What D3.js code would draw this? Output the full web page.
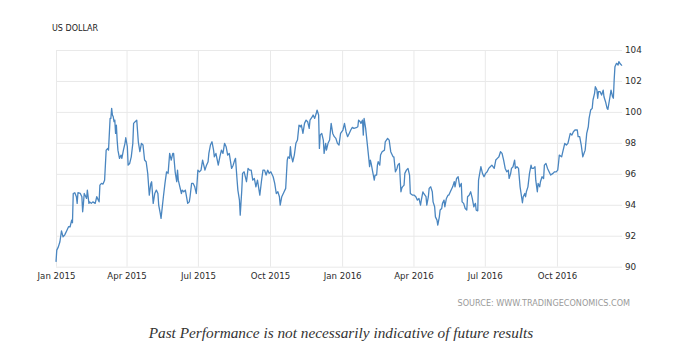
<!DOCTYPE html>
<html>
<head>
<meta charset="utf-8">
<script src="https://cdn.jsdelivr.net/npm/d3@7"></script>
<style>
  html, body { margin: 0; padding: 0; background: #fff; }
  svg { display: block; }
</style>
</head>
<body>
<div id="chart"></div>
<script>
// ---- Data ----
const chartTitle = "US DOLLAR";
const sourceText = "SOURCE: WWW.TRADINGECONOMICS.COM";
const captionText = "Past Performance is not necessarily indicative of future results";

const dates = [
"2015-01-01","2015-01-02","2015-01-04","2015-01-06","2015-01-08","2015-01-10","2015-01-12","2015-01-15","2015-01-17","2015-01-19",
"2015-01-21","2015-01-22","2015-01-23","2015-01-25","2015-01-27","2015-01-28","2015-01-29","2015-02-01","2015-02-03","2015-02-04",
"2015-02-05","2015-02-06","2015-02-08","2015-02-09","2015-02-10","2015-02-12","2015-02-13","2015-02-15","2015-02-17","2015-02-20",
"2015-02-22","2015-02-24","2015-02-25","2015-02-26","2015-02-28","2015-03-02","2015-03-04","2015-03-06","2015-03-08","2015-03-09",
"2015-03-11","2015-03-12","2015-03-13","2015-03-14","2015-03-15","2015-03-16","2015-03-17","2015-03-18","2015-03-19","2015-03-20",
"2015-03-21","2015-03-23","2015-03-25","2015-03-26","2015-03-28","2015-03-30","2015-03-31","2015-04-02","2015-04-03","2015-04-05",
"2015-04-07","2015-04-09","2015-04-10","2015-04-12","2015-04-14","2015-04-16","2015-04-18","2015-04-20","2015-04-22","2015-04-24",
"2015-04-26","2015-04-28","2015-04-30","2015-05-02","2015-05-03","2015-05-05","2015-05-07","2015-05-09","2015-05-11","2015-05-12",
"2015-05-14","2015-05-15","2015-05-18","2015-05-20","2015-05-22","2015-05-24","2015-05-26","2015-05-28","2015-05-30","2015-05-31",
"2015-06-02","2015-06-04","2015-06-05","2015-06-06","2015-06-08","2015-06-10","2015-06-11","2015-06-13","2015-06-15","2015-06-18",
"2015-06-20","2015-06-21","2015-06-23","2015-06-25","2015-06-27","2015-06-29","2015-07-01","2015-07-03","2015-07-05","2015-07-07",
"2015-07-10","2015-07-12","2015-07-14","2015-07-15","2015-07-17","2015-07-19","2015-07-21","2015-07-22","2015-07-24","2015-07-27",
"2015-07-29","2015-07-31","2015-08-02","2015-08-04","2015-08-06","2015-08-08","2015-08-10","2015-08-13","2015-08-15","2015-08-17",
"2015-08-18","2015-08-20","2015-08-21","2015-08-23","2015-08-24","2015-08-26","2015-08-27","2015-08-29","2015-09-01","2015-09-03",
"2015-09-05","2015-09-07","2015-09-09","2015-09-11","2015-09-13","2015-09-15","2015-09-18","2015-09-20","2015-09-22","2015-09-24",
"2015-09-26","2015-09-28","2015-09-30","2015-10-02","2015-10-05","2015-10-07","2015-10-09","2015-10-11","2015-10-13","2015-10-14",
"2015-10-16","2015-10-19","2015-10-21","2015-10-23","2015-10-24","2015-10-26","2015-10-27","2015-10-28","2015-10-30","2015-11-01",
"2015-11-03","2015-11-05","2015-11-07","2015-11-09","2015-11-10","2015-11-12","2015-11-14","2015-11-16","2015-11-18","2015-11-20",
"2015-11-21","2015-11-24","2015-11-25","2015-11-27","2015-11-29","2015-11-30","2015-12-02","2015-12-03","2015-12-04","2015-12-06",
"2015-12-08","2015-12-09","2015-12-11","2015-12-12","2015-12-14","2015-12-16","2015-12-18","2015-12-20","2015-12-22","2015-12-24",
"2015-12-26","2015-12-28","2015-12-30","2016-01-02","2016-01-04","2016-01-06","2016-01-08","2016-01-10","2016-01-12","2016-01-14",
"2016-01-16","2016-01-19","2016-01-21","2016-01-22","2016-01-24","2016-01-25","2016-01-27","2016-01-28","2016-01-29","2016-01-30",
"2016-01-31","2016-02-02","2016-02-04","2016-02-05","2016-02-06","2016-02-07","2016-02-09","2016-02-11","2016-02-12","2016-02-14",
"2016-02-15","2016-02-16","2016-02-18","2016-02-19","2016-02-21","2016-02-24","2016-02-25","2016-02-28","2016-03-01","2016-03-03",
"2016-03-04","2016-03-06","2016-03-07","2016-03-09","2016-03-11","2016-03-12","2016-03-14","2016-03-16","2016-03-17","2016-03-18",
"2016-03-20","2016-03-21","2016-03-23","2016-03-25","2016-03-27","2016-03-28","2016-03-31","2016-04-02","2016-04-04","2016-04-06",
"2016-04-08","2016-04-10","2016-04-11","2016-04-13","2016-04-14","2016-04-17","2016-04-18","2016-04-20","2016-04-21","2016-04-23",
"2016-04-25","2016-04-26","2016-04-28","2016-04-29","2016-05-01","2016-05-02","2016-05-04","2016-05-05","2016-05-07","2016-05-08",
"2016-05-10","2016-05-11","2016-05-13","2016-05-15","2016-05-16","2016-05-18","2016-05-21","2016-05-23","2016-05-24","2016-05-26",
"2016-05-28","2016-05-30","2016-06-01","2016-06-02","2016-06-04","2016-06-06","2016-06-08","2016-06-09","2016-06-11","2016-06-13",
"2016-06-15","2016-06-17","2016-06-19","2016-06-20","2016-06-22","2016-06-23","2016-06-26","2016-06-28","2016-06-30","2016-07-02",
"2016-07-04","2016-07-06","2016-07-08","2016-07-10","2016-07-13","2016-07-15","2016-07-17","2016-07-19","2016-07-21","2016-07-23",
"2016-07-25","2016-07-27","2016-07-29","2016-07-31","2016-08-01","2016-08-03","2016-08-04","2016-08-06","2016-08-08","2016-08-09",
"2016-08-11","2016-08-13","2016-08-15","2016-08-18","2016-08-19","2016-08-21","2016-08-22","2016-08-23","2016-08-25","2016-08-27",
"2016-08-29","2016-08-30","2016-09-01","2016-09-03","2016-09-04","2016-09-06","2016-09-07","2016-09-09","2016-09-10","2016-09-12",
"2016-09-14","2016-09-15","2016-09-17","2016-09-19","2016-09-21","2016-09-23","2016-09-26","2016-09-28","2016-09-30","2016-10-02",
"2016-10-03","2016-10-04","2016-10-07","2016-10-08","2016-10-11","2016-10-13","2016-10-15","2016-10-16","2016-10-18","2016-10-20",
"2016-10-22","2016-10-24","2016-10-27","2016-10-28","2016-10-30","2016-11-01","2016-11-03","2016-11-06","2016-11-08","2016-11-10",
"2016-11-11","2016-11-13","2016-11-15","2016-11-16","2016-11-18","2016-11-19","2016-11-21","2016-11-22","2016-11-23","2016-11-25",
"2016-11-27","2016-11-29","2016-11-30","2016-12-02","2016-12-04","2016-12-05","2016-12-07","2016-12-08","2016-12-09","2016-12-11",
"2016-12-12","2016-12-13","2016-12-14","2016-12-16","2016-12-18","2016-12-19","2016-12-21","2016-12-23"
];

const values = [
90.31,91.07,91.28,91.61,92.32,91.93,92.04,92.36,92.58,92.58,
93.01,92.84,94.73,94.78,94.52,94.09,94.78,94.73,94.52,93.55,
94.09,94.73,94.52,94.41,94.95,94.09,94.19,94.09,94.19,94.09,
94.52,94.30,94.19,95.27,95.38,95.34,95.59,97.53,97.64,97.53,
99.58,99.58,100.23,99.80,99.69,99.37,99.47,98.61,99.15,98.18,
97.53,97.00,97.21,97.00,97.53,97.97,98.33,97.75,96.56,96.67,
97.10,97.97,99.26,99.37,99.47,98.07,97.43,97.97,97.86,96.89,
96.78,96.03,94.62,95.38,95.49,94.09,94.73,94.95,94.73,93.98,
93.44,93.12,94.52,95.38,96.13,96.03,97.32,96.89,97.32,97.32,
96.13,95.49,96.24,95.59,95.16,94.73,94.95,94.84,94.95,94.09,
94.19,94.52,95.38,95.38,95.16,94.73,96.24,96.13,96.24,96.89,
96.24,96.56,96.78,97.32,97.86,98.07,97.53,97.10,97.32,96.56,
97.10,97.53,97.32,97.97,97.75,97.21,97.32,96.35,96.56,96.89,
97.00,95.59,94.95,94.30,93.33,94.95,96.03,96.13,95.49,96.35,
96.24,96.24,95.59,95.70,95.16,95.59,94.62,95.49,96.24,96.24,
95.92,96.24,96.03,96.13,95.81,95.38,94.73,94.84,94.52,93.98,
94.52,94.84,95.06,96.89,97.10,97.00,97.75,97.21,96.78,97.21,
97.97,98.18,99.15,99.04,99.15,98.61,99.26,99.47,99.37,98.94,
99.47,99.69,99.80,99.58,99.91,100.12,99.80,97.64,98.50,98.61,
98.18,97.32,97.97,97.53,97.97,98.18,99.26,98.61,98.40,98.29,
97.97,97.86,98.61,98.83,99.26,98.72,98.40,98.61,98.83,99.00,
98.94,98.98,99.04,99.47,99.37,99.26,99.47,98.50,99.58,99.26,
98.94,97.97,97.00,96.46,96.89,96.67,96.13,95.59,95.92,95.92,
96.56,96.78,96.56,97.21,97.43,97.53,98.07,98.29,98.18,97.43,
97.32,97.10,97.10,96.13,96.35,96.56,96.67,94.84,95.06,95.16,
95.27,96.03,96.24,96.35,95.92,94.73,94.62,94.62,94.52,94.30,
94.41,93.98,94.30,94.84,94.73,94.52,93.98,94.52,95.06,95.16,
94.84,94.19,93.87,93.22,93.01,92.69,93.22,93.66,93.76,94.09,
94.30,93.87,94.41,94.62,94.62,94.84,95.16,95.49,95.16,95.70,
95.81,95.16,95.38,94.19,94.09,93.76,93.66,94.52,94.62,94.84,
94.41,93.87,94.09,93.66,93.61,95.59,96.46,96.03,95.81,96.03,
96.13,96.35,96.46,96.56,96.35,96.89,97.00,97.10,97.43,97.32,
96.89,96.35,96.13,96.24,95.70,96.03,96.35,96.46,96.89,96.35,
96.46,96.35,95.16,94.13,94.52,94.73,94.52,94.84,95.16,96.03,
96.56,96.35,96.35,96.46,95.59,94.84,95.38,95.16,95.49,95.81,
95.70,96.56,96.67,96.35,96.13,95.92,96.03,96.13,96.13,96.24,
96.67,97.21,97.10,97.32,97.97,97.86,97.97,98.18,98.61,98.50,
98.72,98.83,98.83,98.40,98.40,97.86,97.10,97.53,98.61,99.04,
99.58,100.12,100.23,100.77,101.20,101.63,101.41,100.88,101.31,101.31,
101.09,101.41,100.98,100.66,100.23,100.16,100.77,101.09,101.41,100.98,
100.88,102.06,102.92,103.14,103.03,103.25,103.09,102.99
];

const yTickValues = [90, 92, 94, 96, 98, 100, 102, 104];
const xTickDates = ["2015-01-01","2015-04-01","2015-07-01","2015-10-01","2016-01-01","2016-04-01","2016-07-01","2016-10-01"];

// ---- Layout ----
const W = 682, H = 347;
const plotLeft = 56, plotRight = 622, plotTop = 50, plotBottom = 266.7;

const parse = d3.timeParse("%Y-%m-%d");
const series = dates.map((d, i) => ({ date: parse(d), value: values[i] }));

const svg = d3.select("#chart").append("svg")
  .attr("width", W).attr("height", H)
  .style("background", "#fff");

const x = d3.scaleTime()
  .domain([parse(dates[0]), parse(dates[dates.length - 1])])
  .range([plotLeft, plotRight]);

const y = d3.scaleLinear()
  .domain([90, 104])
  .range([plotBottom, plotTop]);

const gridColor = "#e9e9e9";
const labelFont = "'DejaVu Sans', Verdana, sans-serif";

// horizontal grid + right labels
const yAxis = d3.axisRight(y)
  .tickValues(yTickValues)
  .tickSize(-(plotRight - plotLeft))
  .tickPadding(3)
  .tickFormat(d3.format("d"));

const gy = svg.append("g")
  .attr("transform", `translate(${plotRight},0)`)
  .call(yAxis);
gy.select(".domain").remove();
gy.selectAll(".tick line").attr("stroke", gridColor).attr("stroke-width", 1);
gy.selectAll(".tick text")
  .attr("x", 3)
  .attr("fill", "#2b2b2b")
  .style("font-family", labelFont)
  .style("font-size", "8.8px");

// vertical grid + bottom labels
const xAxis = d3.axisBottom(x)
  .tickValues(xTickDates.map(parse))
  .tickSize(-(plotBottom - plotTop))
  .tickPadding(6)
  .tickFormat(d3.timeFormat("%b %Y"));

const gx = svg.append("g")
  .attr("transform", `translate(0,${plotBottom})`)
  .call(xAxis);
gx.select(".domain").remove();
gx.selectAll(".tick line").attr("stroke", gridColor).attr("stroke-width", 1);
gx.selectAll(".tick text")
  .attr("fill", "#2b2b2b")
  .style("font-family", labelFont)
  .style("font-size", "8.6px");

// line
const line = d3.line()
  .x(d => x(d.date))
  .y(d => y(d.value));

svg.append("path")
  .datum(series)
  .attr("fill", "none")
  .attr("stroke", "#4a86c0")
  .attr("stroke-width", 1.3)
  .attr("stroke-linejoin", "round")
  .attr("d", line);

// title
svg.append("text")
  .attr("x", 52).attr("y", 31)
  .attr("fill", "#222")
  .style("font-family", labelFont)
  .style("font-size", "8px")
  .text(chartTitle);

// source
svg.append("text")
  .attr("x", 630).attr("y", 306)
  .attr("text-anchor", "end")
  .attr("fill", "#9a9a9a")
  .style("font-family", labelFont)
  .style("font-size", "8.1px")
  .text(sourceText);

// caption
svg.append("text")
  .attr("x", 341).attr("y", 338)
  .attr("text-anchor", "middle")
  .attr("fill", "#333")
  .style("font-family", "'Liberation Serif', serif")
  .style("font-style", "italic")
  .style("font-size", "15.3px")
  .text(captionText);
</script>
</body>
</html>
